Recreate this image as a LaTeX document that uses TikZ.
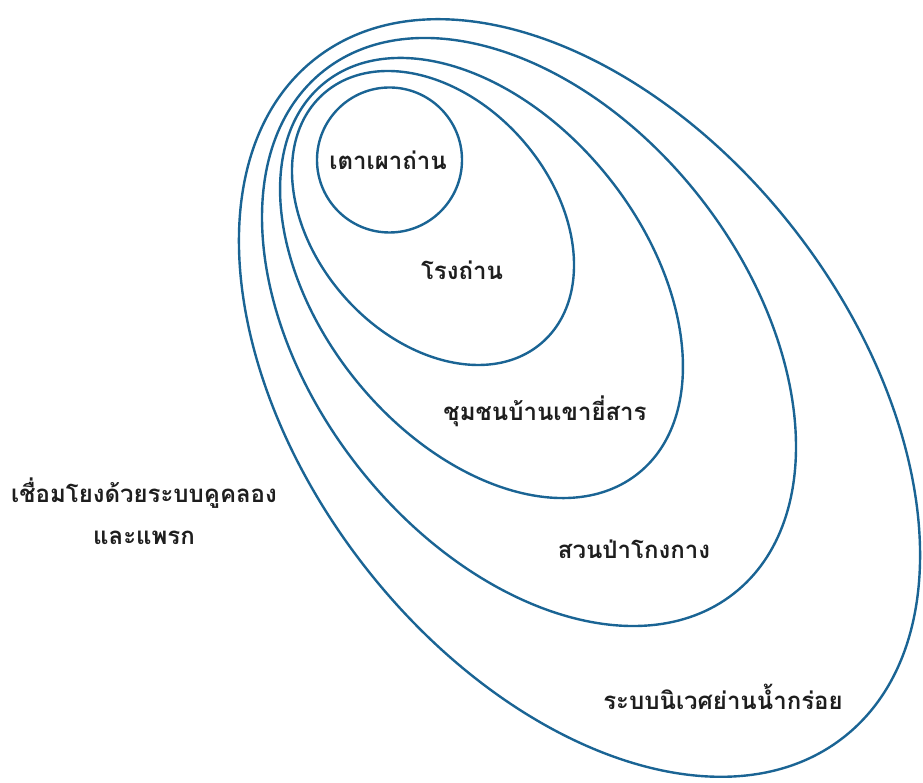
\documentclass[tikz,border=0pt]{standalone}
\usepackage{fontspec}
\newfontfamily\thaifont[Script=Thai]{Loma}
\definecolor{ringblue}{RGB}{26,100,148}
\definecolor{txt}{RGB}{30,30,30}
\begin{document}
\begin{tikzpicture}[
  ring/.style={draw=ringblue, line width=2.4pt},
  lbl/.style={font=\thaifont\bfseries\fontsize{24pt}{30pt}\selectfont, text=txt, inner sep=0pt, align=center}
]
\useasboundingbox (0pt,0pt) rectangle (923pt,783pt);
% circle
\draw[ring] (389.5pt,623pt) circle[radius=72.5pt];
% ellipses (centre, semi-axes, rotation)
\draw[ring, rotate around={-48.7:(433pt,565pt)}] (433pt,565pt) ellipse[x radius=165.6pt, y radius=118.6pt];
\draw[ring, rotate around={-51.2:(481.5pt,505pt)}] (481.5pt,505pt) ellipse[x radius=250.5pt, y radius=162pt];
\draw[ring, rotate around={-51.95:(529pt,451pt)}] (529pt,451pt) ellipse[x radius=332.2pt, y radius=217.6pt];
\draw[ring, rotate around={-52.2:(579.5pt,385pt)}] (579.5pt,385pt) ellipse[x radius=430pt, y radius=273pt];
% labels
\node[lbl] (kiln) at (388pt,623pt) {เตาเผาถ่าน};
\node[lbl] (shed) at (462pt,513pt) {โรงถ่าน};
\node[lbl] (village) at (545pt,372pt) {ชุมชนบ้านเขายี่สาร};
\node[lbl] (forest) at (634pt,234pt) {สวนป่าโกงกาง};
\node[lbl] (eco) at (723pt,86pt) {ระบบนิเวศย่านน้ำกร่อย};
\node[lbl] (link) at (144pt,272pt) {เชื่อมโยงด้วยระบบคูคลอง\\[12pt]และแพรก};
\end{tikzpicture}
\end{document}
